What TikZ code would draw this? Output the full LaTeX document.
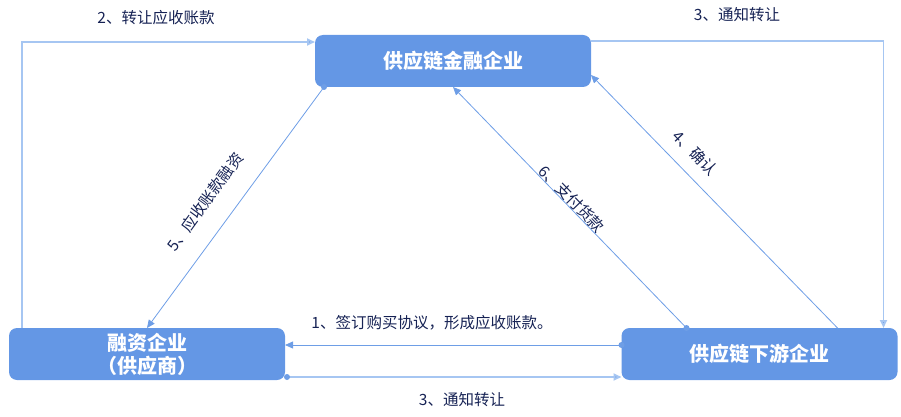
\documentclass[tikz,border=0pt]{standalone}
\usepackage{fontspec}
\setmainfont{Noto Sans CJK SC}
\usetikzlibrary{arrows.meta,calc}
\definecolor{boxblue}{RGB}{100,151,229}
\definecolor{lineblue}{RGB}{110,158,230}
\definecolor{lightblue}{RGB}{166,198,242}
\definecolor{labelnavy}{RGB}{22,34,84}
\tikzset{
  box/.style={draw=none, fill=boxblue, rounded corners=8pt, minimum width=276pt, minimum height=52pt,
    inner sep=0pt, outer sep=0pt, text=white, font=\fontsize{20pt}{23pt}\selectfont\bfseries, align=center},
  thinconn/.style={draw=lineblue, line width=0.8pt, -{Triangle[length=8pt,width=7pt]}},
  thickconn/.style={draw=lightblue, line width=1.8pt, -{Triangle[length=8pt,width=7pt,fill=lineblue]}},
  startdot/.style={circle, fill=lineblue, inner sep=0pt, minimum size=6pt},
  lbl/.style={text=labelnavy, font=\fontsize{15.5pt}{17pt}\selectfont, inner sep=0pt}
}
\begin{document}
\begin{tikzpicture}[x=1pt,y=-1pt]
\useasboundingbox (0,0) rectangle (901,417);
\node[box] (fin) at (453,61) {供应链金融企业};
\node[box] (sup) at (147,354) {融资企业\\（供应商）};
\node[box] (down) at (759.5,354) {供应链下游企业};

% 2 transfer receivables
\draw[thickconn] ([xshift=13pt]sup.north west) |- ([yshift=-7pt]fin.north west);
\node[lbl] (l2) at (156,18) {2、转让应收账款};

% 3 notify (top)
\draw[thickconn] ([yshift=-6pt]fin.north east) -| ([xshift=-14pt]down.north east);
\node[lbl] (l3a) at (737,15) {3、通知转让};

% 5 financing
\coordinate (s5) at ([xshift=9pt]fin.south west);
\draw[thinconn] (s5) -- (sup.north);
\node[startdot] (d5) at (s5) {};
\node[lbl, rotate=54] (l5) at (205,202) {5、应收账款融资};

% 6 payment
\coordinate (s6) at ([xshift=65pt]down.north west);
\draw[thinconn] (s6) -- (fin.south);
\node[startdot] (d6) at (s6) {};
\node[lbl, rotate=-46] (l6) at (572,199) {6、支付货款};

% 4 confirm
\draw[thinconn] ([xshift=216pt]down.north west) -- ([yshift=12pt]fin.south east);
\node[lbl, rotate=-46] (l4) at (695,153) {4、确认};

% 1 purchase agreement
\coordinate (s1) at ([yshift=9pt]down.west);
\draw[thinconn] (s1) -- ([yshift=9pt]sup.east);
\node[startdot] (d1) at (s1) {};
\node[lbl] (l1) at (432,323) {1、签订购买协议，形成应收账款。};

% 3 notify (bottom)
\coordinate (s3) at ([yshift=-23pt,xshift=2pt]sup.east);
\draw[thickconn] (s3) -- ([yshift=-23pt]down.west);
\node[startdot] (d3) at (s3) {};
\node[lbl] (l3b) at (462,400) {3、通知转让};
\end{tikzpicture}
\end{document}
